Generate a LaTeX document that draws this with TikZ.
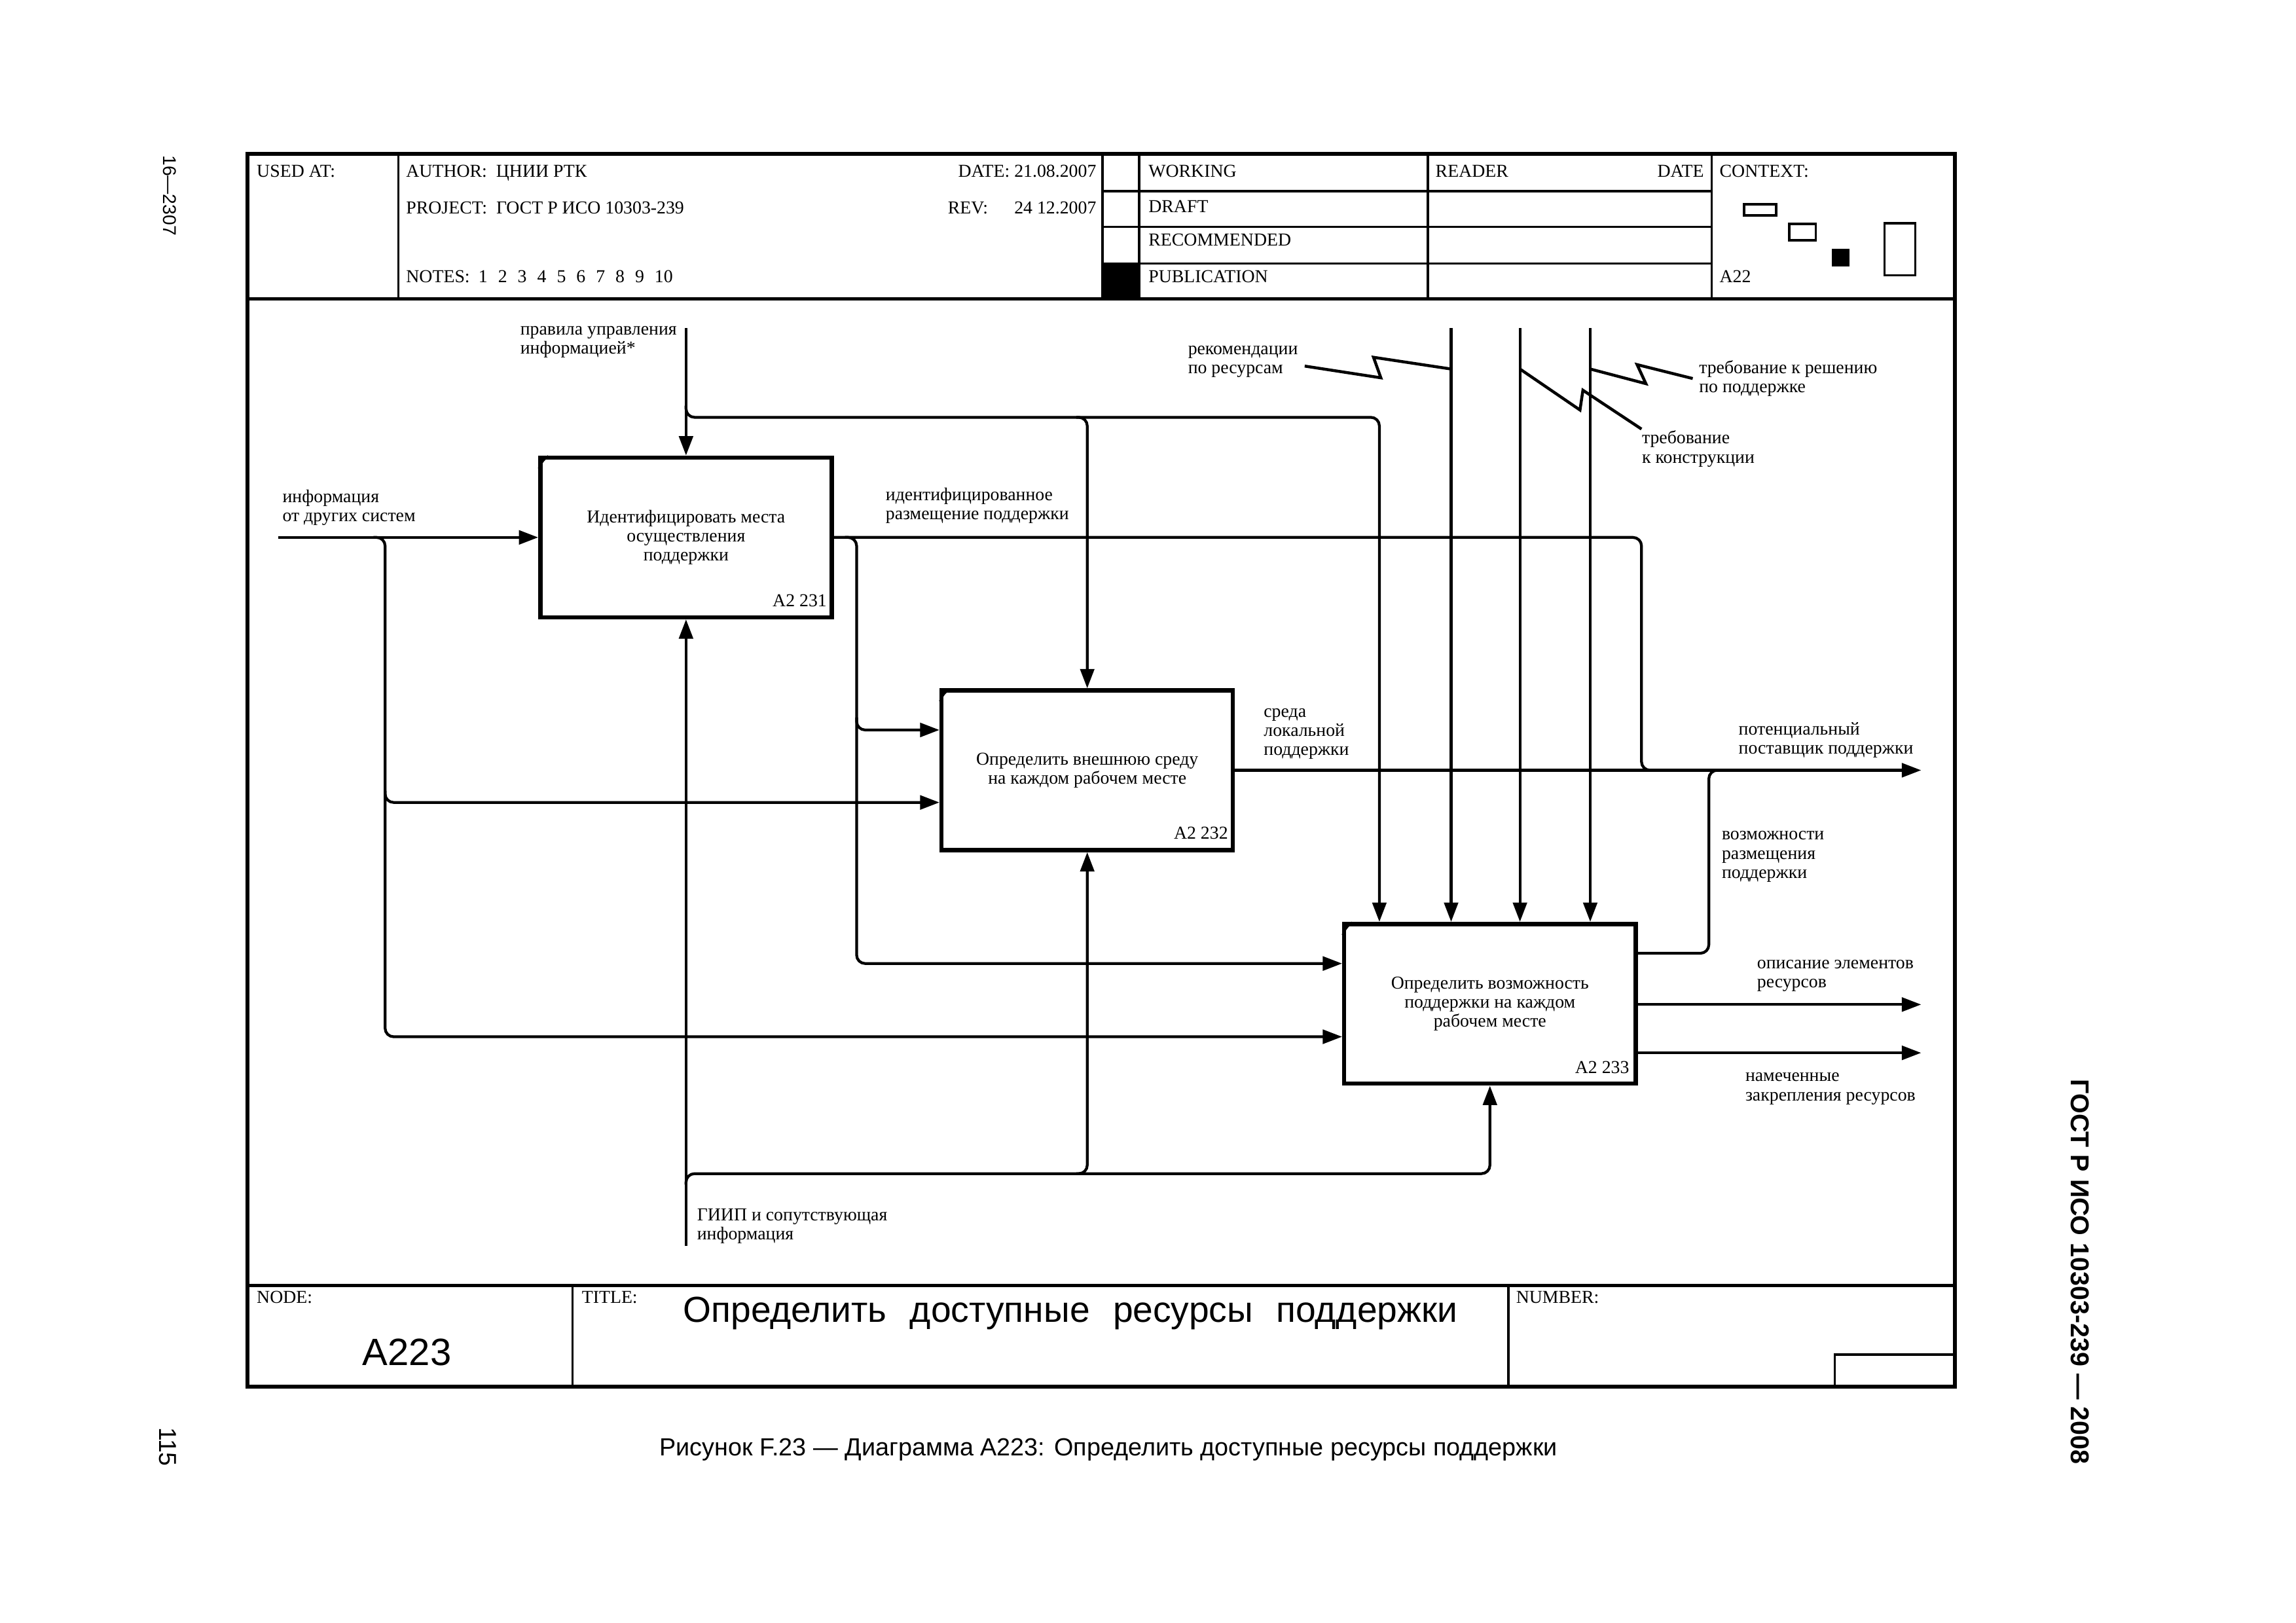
\documentclass[tikz,border=0pt]{standalone}
\usepackage{fontspec}
\setmainfont{Liberation Serif}
\newfontfamily\sansA{Liberation Sans}
\usetikzlibrary{arrows.meta}
\newcommand\smallfnt{\fontsize{6.7}{7}\selectfont}
\newcommand\nsp{\hspace{3.85pt}}
\begin{document}
\begin{tikzpicture}[x=0.18941mm,y=-0.18941mm,
  frame/.style={line width=0.45mm},
  gridln/.style={line width=0.3mm},
  conn/.style={line width=0.36mm, rounded corners=1.1mm},
  arr/.style={-{Triangle[length=2.5mm,width=1.8mm]}},
  zig/.style={line width=0.38mm, sharp corners},
  proc/.style={draw, line width=0.55mm, minimum width=37.69mm, minimum height=20.65mm, inner sep=0pt, align=center, font=\smallfnt},
  lab/.style={anchor=west, inner sep=0pt, align=left, font=\smallfnt},
  hdr/.style={anchor=base west, inner sep=0pt, font=\smallfnt},
  hdre/.style={anchor=base east, inner sep=0pt, font=\smallfnt},
  boxid/.style={anchor=east, inner sep=0pt, font=\smallfnt},
]
\useasboundingbox (0,0) rectangle (1568,1108);

% ---------- frame ----------
\draw[frame] (169,105) rectangle (1335,947);
\draw[frame] (169,204) -- (1335,204);
\draw[frame] (169,878) -- (1335,878);
\draw[gridln] (272,105) -- (272,204);
\draw[gridln] (753,105) -- (753,204);
\draw[gridln] (778,105) -- (778,204);
\draw[gridln] (975,105) -- (975,204);
\draw[gridln] (1169,105) -- (1169,204);
\draw[gridln] (753,130.5) -- (1169,130.5);
\draw[gridln] (753,155) -- (1169,155);
\draw[gridln] (753,180) -- (1169,180);
\fill (753,180) rectangle (778,204);
\draw[gridln] (391,878) -- (391,947);
\draw[gridln] (1030,878) -- (1030,947);
\draw[gridln] (1253,947) |- (1335,925);

% context icons
\draw[gridln] (1191,139.5) rectangle (1213,147);
\draw[gridln] (1222,153) rectangle (1240,164);
\fill (1251,170) rectangle (1263,182);
\draw[gridln] (1287,152.5) rectangle (1308,188);

% ---------- header texts ----------
\node[hdr] (usedat) at (175,121) {USED AT:};
\node[hdr] (author) at (277,121) {AUTHOR:\ \ ЦНИИ РТК};
\node[hdre] (date) at (749,121) {DATE: 21.08.2007};
\node[hdr] (project) at (277,146) {PROJECT:\ \ ГОСТ Р ИСО 10303-239};
\node[hdr] (rev) at (647,146) {REV:};
\node[hdre] (revd) at (749,146) {24 12.2007};
\node[hdr] (notes) at (277,193) {NOTES:\hspace{3.2pt}1\nsp 2\nsp 3\nsp 4\nsp 5\nsp 6\nsp 7\nsp 8\nsp 9\nsp 10};
\node[hdr] (working) at (784,121) {WORKING};
\node[hdr] (draft) at (784,145) {DRAFT};
\node[hdr] (recom) at (784,168) {RECOMMENDED};
\node[hdr] (publ) at (784,193) {PUBLICATION};
\node[hdr] (reader) at (980,121) {READER};
\node[hdre] (rdate) at (1164,121) {DATE};
\node[hdr] (context) at (1174,121) {CONTEXT:};
\node[hdr] (ctxid) at (1174,193) {A22};

% ---------- bottom block ----------
\node[hdr] (nodelbl) at (175,890) {NODE:};
\node[hdr] (titlelbl) at (397,890) {TITLE:};
\node[hdr] (numlbl) at (1035,890) {NUMBER:};
\node[inner sep=0pt, font=\sansA\fontsize{14}{16}\selectfont] (nodeid) at (278,923.5) {A223};
\node[anchor=base, inner sep=0pt, font=\sansA\fontsize{13.3}{15}\selectfont] (title) at (731,903)
  {Определить\hspace{8.5pt}доступные\hspace{8.5pt}ресурсы\hspace{8.5pt}поддержки};

% ---------- margins ----------
\node[inner sep=0pt, font=\sansA\fontsize{9.1}{11}\selectfont] (caption) at (757,990)
  {Рисунок F.23 — Диаграмма A223: Определить доступные ресурсы поддержки};
\node[rotate=-90, inner sep=0pt, font=\sansA\bfseries\fontsize{9.5}{11}\selectfont] (std) at (1420.5,868.5)
  {ГОСТ Р ИСО 10303-239 — 2008};
\node[rotate=-90, inner sep=0pt, font=\sansA\fontsize{6.8}{8}\selectfont] (sheet) at (116,133.5) {16—2307};
\node[rotate=-90, inner sep=0pt, font=\sansA\fontsize{9}{11}\selectfont] (page) at (114.5,988) {115};

% ---------- activity boxes ----------
\node[proc] (b1) at (468.5,367) {Идентифицировать места\\осуществления\\поддержки};
\node[proc] (b2) at (742.5,526) {Определить внешнюю среду\\на каждом рабочем месте};
\node[proc] (b3) at (1017.5,685.5) {Определить возможность\\поддержки на каждом\\рабочем месте};
\node[boxid] (b1id) at (565,410) {A2 231};
\node[boxid] (b2id) at (839,569) {A2 232};
\node[boxid] (b3id) at (1113,729) {A2 233};
\foreach \b in {b1,b2,b3}{
  \draw[line width=0.3mm] ([shift={(0.5,9)}]\b.north west) to[bend left=20] ([shift={(7,0.5)}]\b.north west);
}

% ---------- free ends ----------
\coordinate (inI) at (190,367);
\coordinate (ctlI) at (468.5,224);
\coordinate (ctlA) at (991,224);
\coordinate (ctlB) at (1038,224);
\coordinate (ctlC) at (1086,224);
\coordinate (mechI) at (468.5,851);
\coordinate (outP) at (1312,526);
\coordinate (outO) at (1312,686);
\coordinate (outN) at (1312,719);

% ---------- input ----------
\draw[conn,arr] (inI) -- (inI -| b1.west);
\draw[conn,arr] (255,367) -- (263,367) -- (263,708) -- (b3.west |- 0,708);
\draw[conn,arr] (263,540) -- (263,548) -- (b2.west |- 0,548);

% ---------- controls ----------
\draw[conn,arr] (ctlI) -- (b1.north);
\draw[conn,arr] (468.5,277) -- (468.5,285) -- (942,285) -- (b3.north -| 942,0);
\draw[conn,arr] (735,285) -- (742.5,285) -- (b2.north);
\draw[conn,arr] (ctlA) -- (ctlA |- b3.north);
\draw[conn,arr] (ctlB) -- (ctlB |- b3.north);
\draw[conn,arr] (ctlC) -- (ctlC |- b3.north);

% ---------- outputs ----------
\draw[conn] (b1.east) -- (1121,367) -- (1121,526) -- (1131,526);
\draw[conn,arr] (577,367) -- (585,367) -- (585,658) -- (b3.west |- 0,658);
\draw[conn,arr] (585,490) -- (585,498.5) -- (b2.west |- 0,498.5);
\draw[conn,arr] (b2.east) -- (outP);
\draw[conn] (b3.east |- 0,651) -- (1167,651) -- (1167,526) -- (1177,526);
\draw[conn,arr] (b3.east |- outO) -- (outO);
\draw[conn,arr] (b3.east |- outN) -- (outN);

% ---------- mechanisms ----------
\draw[conn,arr] (mechI) -- (b1.south);
\draw[conn,arr] (468.5,809) -- (468.5,801.5) -- (1017.5,801.5) -- (b3.south);
\draw[conn,arr] (735,801.5) -- (742.5,801.5) -- (b2.south);

% ---------- squiggle leaders ----------
\draw[zig] (891,250) -- (943,258) -- (938,244) -- (ctlA |- 0,252);
\draw[zig] (ctlC |- 0,252) -- (1124,262) -- (1118,249) -- (1156,258.5);
\draw[zig] (ctlB |- 0,252) -- (1079,280) -- (1081,266.5) -- (1121,293);

% ---------- arrow labels ----------
\node[lab] (l1) at (192.6,346.5) {информация\\от других систем};
\node[lab] (l2) at (355,233.5) {правила управления\\информацией*};
\node[lab] (l3) at (604.5,345.5) {идентифицированное\\размещение поддержки};
\node[lab] (l4) at (862.7,501) {среда\\локальной\\поддержки};
\node[lab] (l5) at (1187,505.5) {потенциальный\\поставщик поддержки};
\node[lab] (l6) at (1175.5,585) {возможности\\размещения\\поддержки};
\node[lab] (l7) at (1199.6,666.5) {описание элементов\\ресурсов};
\node[lab] (l8) at (1191.6,743.5) {намеченные\\закрепления ресурсов};
\node[lab] (l9) at (475.7,837.5) {ГИИП и сопутствующая\\информация};
\node[lab] (l10) at (811,247) {рекомендации\\по ресурсам};
\node[lab] (l11) at (1160,258.5) {требование к решению\\по поддержке};
\node[lab] (l12) at (1121,306.5) {требование\\к конструкции};
\end{tikzpicture}
\end{document}
